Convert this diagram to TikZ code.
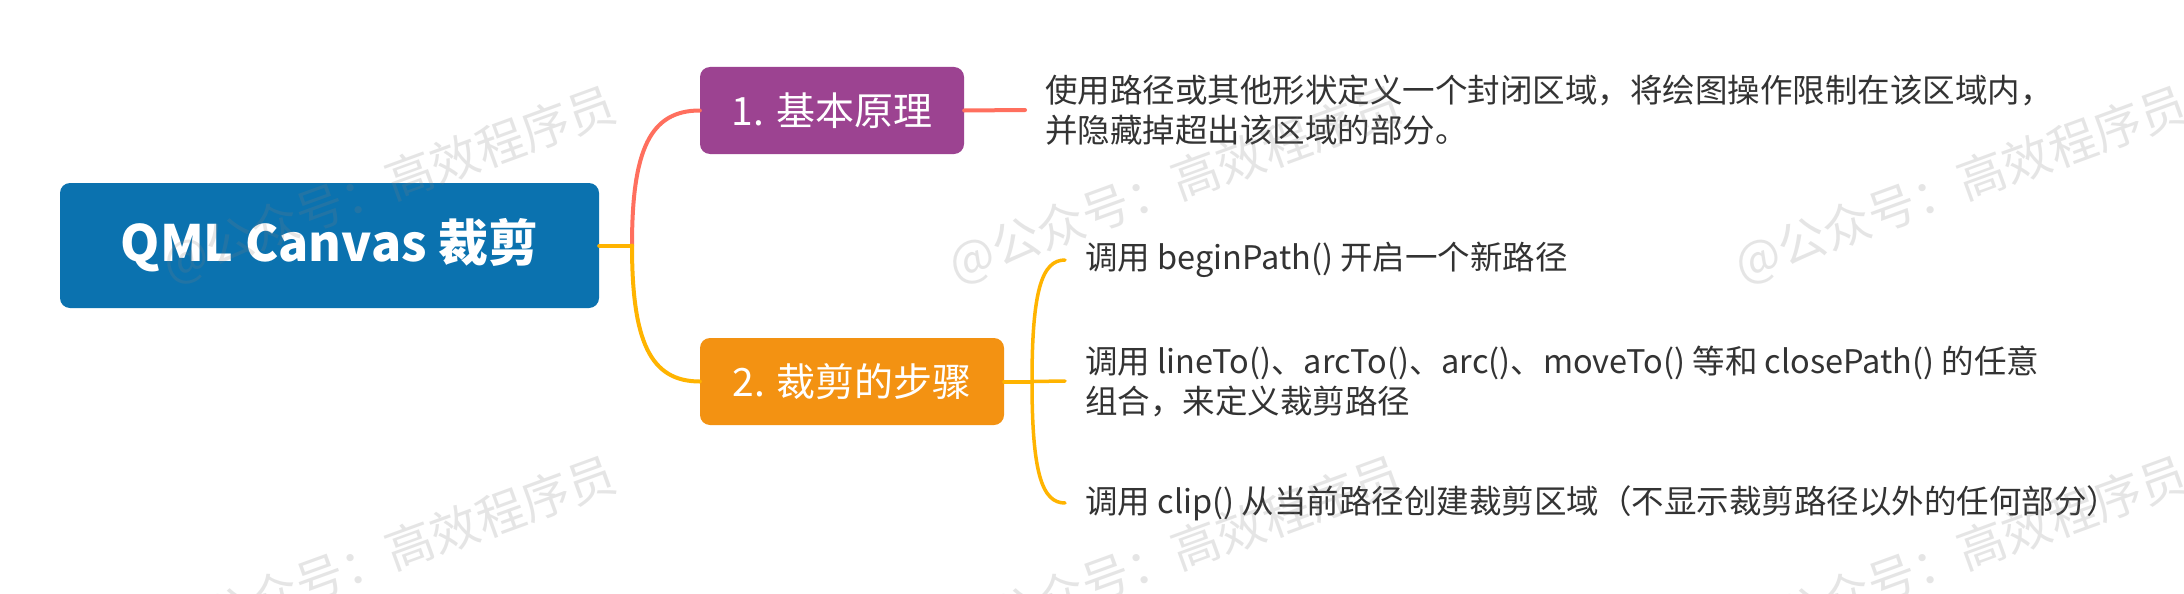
\documentclass[tikz,border=0pt]{standalone}
\usepackage{fontspec}
\setmainfont{Noto Sans CJK SC}
\definecolor{rootblue}{HTML}{0B72AF}
\definecolor{nodepurple}{HTML}{9C4391}
\definecolor{nodeorange}{HTML}{F39212}
\definecolor{linkcoral}{HTML}{FF6F5E}
\definecolor{linkyellow}{HTML}{FFB400}
\definecolor{txtgray}{HTML}{333333}
\begin{document}
\begin{tikzpicture}[x=1pt,y=-1pt,
  box/.style={rounded corners=10pt, inner sep=0pt, text=white, font=\fontsize{39}{46}\selectfont, minimum height=87pt},
  txt/.style={anchor=west, align=left, inner xsep=20pt, inner ysep=0pt, text=txtgray, font=\fontsize{32.5}{40}\selectfont},
  conn/.style={line width=4pt, line cap=round},
  brk/.style={line width=3.5pt, line cap=round, linkyellow},
  wm/.style={anchor=west, rotate=20, text=gray, text opacity=0.2, font=\fontsize{48}{48}\selectfont, inner sep=0pt}]
\fill[white] (0,0) rectangle (2184,594);
\useasboundingbox (0,0) rectangle (2184,594);
% nodes
\node[box, fill=rootblue, minimum width=539pt, minimum height=125pt, font=\fontsize{50}{60}\selectfont\bfseries] (root) at (329.5,245.5) {QML Canvas 裁剪};
\node[box, fill=nodepurple, minimum width=264pt] (n1) at (832,110.5) {1. 基本原理};
\node[box, fill=nodeorange, minimum width=304pt] (n2) at (852,381.5) {2. 裁剪的步骤};
\node[txt] (t1) at (1025,110) {使用路径或其他形状定义一个封闭区域，将绘图操作限制在该区域内，\\并隐藏掉超出该区域的部分。};
\node[txt] (i1) at (1065,260) {调用 beginPath() 开启一个新路径};
\node[txt] (i2) at (1065,381) {调用 lineTo()、arcTo()、arc()、moveTo() 等和 closePath() 的任意\\组合，来定义裁剪路径};
\node[txt] (i3) at (1065,503) {调用 clip() 从当前路径创建裁剪区域（不显示裁剪路径以外的任何部分）};
\coordinate (b1) at (632,245.5);
\coordinate (b2) at (1032,381.5);
% connectors
\draw[conn, linkcoral] (b1) .. controls (632,150) and (650,110.5) .. (n1.west);
\draw[conn, linkyellow] (b1) .. controls (632,341) and (650,381.5) .. (n2.west);
\draw[conn, linkyellow] (root.east) -- (b1);
\draw[conn, linkcoral] (n1.east) -- (t1.west);
\draw[conn, linkyellow] (n2.east) -- (b2);
\draw[brk] (b2) -- (i2.west);
\draw[brk] (b2) .. controls (1032,290) and (1042,260) .. (i1.west);
\draw[brk] (b2) .. controls (1032,473) and (1042,503) .. (i3.west);
% watermarks
\foreach \wx [count=\k] in {165,951,1737} {
  \node[wm] (wma\k) at (\wx,267) {@公众号：高效程序员};
  \node[wm] (wmb\k) at (\wx,637) {@公众号：高效程序员};
}
\end{tikzpicture}
\end{document}
